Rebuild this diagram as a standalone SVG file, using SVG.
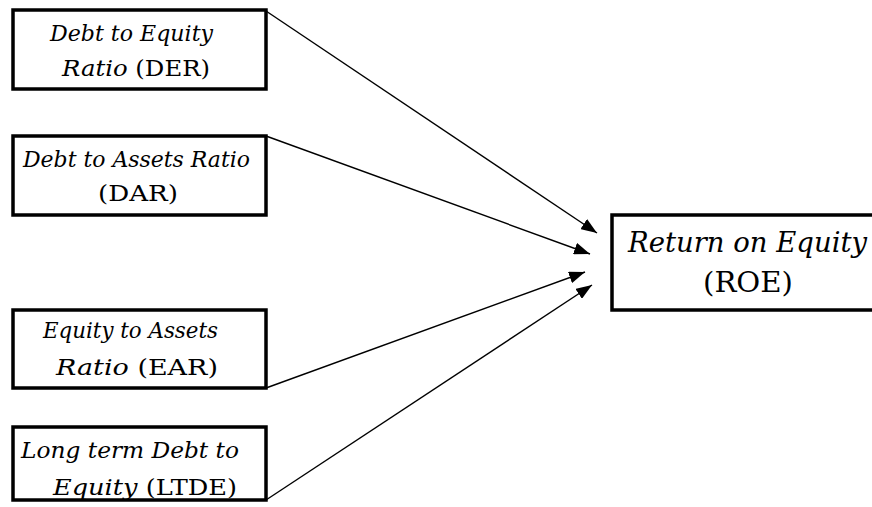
<svg xmlns="http://www.w3.org/2000/svg" width="872" height="507" viewBox="0 0 872 507">
<defs>
<style>
.box{fill:#fff;stroke:#000;stroke-width:3.5}
text{font-family:'DejaVu Serif','Liberation Serif',serif;font-size:23px;fill:#000}
.big{font-size:27px}
.i{font-style:italic}
.c{stroke:#000;stroke-width:1.4;fill:none}
</style>
<marker id="ah" viewBox="0 0 16 12" refX="16" refY="6" markerWidth="16" markerHeight="12" markerUnits="userSpaceOnUse" orient="auto">
<path d="M0,0 L16,6 L0,12 Z" fill="#000"/>
</marker>
</defs>
<rect width="872" height="507" fill="#fff"/>
<g id="connectors">
<line class="c" x1="266" y1="11" x2="597" y2="233" marker-end="url(#ah)"/>
<line class="c" x1="266" y1="136" x2="590" y2="254" marker-end="url(#ah)"/>
<line class="c" x1="266" y1="388" x2="585" y2="272" marker-end="url(#ah)"/>
<line class="c" x1="266" y1="500" x2="592" y2="285" marker-end="url(#ah)"/>
</g>
<g id="der">
<rect class="box" x="13" y="10" width="253" height="79"/>
<text x="50" y="41" textLength="163" lengthAdjust="spacingAndGlyphs"><tspan class="i">Debt to Equity</tspan></text>
<text x="62" y="76" textLength="148" lengthAdjust="spacingAndGlyphs"><tspan class="i">Ratio</tspan> (DER)</text>
</g>
<g id="dar">
<rect class="box" x="13" y="136" width="253" height="79"/>
<text x="23" y="167" textLength="227" lengthAdjust="spacingAndGlyphs"><tspan class="i">Debt to Assets Ratio</tspan></text>
<text x="98" y="201" textLength="80" lengthAdjust="spacingAndGlyphs">(DAR)</text>
</g>
<g id="ear">
<rect class="box" x="13" y="310" width="253" height="78"/>
<text x="43" y="338" textLength="175" lengthAdjust="spacingAndGlyphs"><tspan class="i">Equity to Assets</tspan></text>
<text x="56" y="375" textLength="162" lengthAdjust="spacingAndGlyphs"><tspan class="i">Ratio</tspan> (EAR)</text>
</g>
<g id="ltde">
<rect class="box" x="13" y="427" width="253" height="73"/>
<text x="21" y="458" textLength="218" lengthAdjust="spacingAndGlyphs"><tspan class="i">Long term Debt to</tspan></text>
<text x="53" y="495" textLength="184" lengthAdjust="spacingAndGlyphs"><tspan class="i">Equity</tspan> (LTDE)</text>
</g>
<g id="roe">
<rect class="box" x="612" y="215" width="270" height="95"/>
<text class="big" x="628" y="252" textLength="239" lengthAdjust="spacingAndGlyphs"><tspan class="i">Return on Equity</tspan></text>
<text class="big" x="703" y="292" textLength="90" lengthAdjust="spacingAndGlyphs">(ROE)</text>
</g>
</svg>
